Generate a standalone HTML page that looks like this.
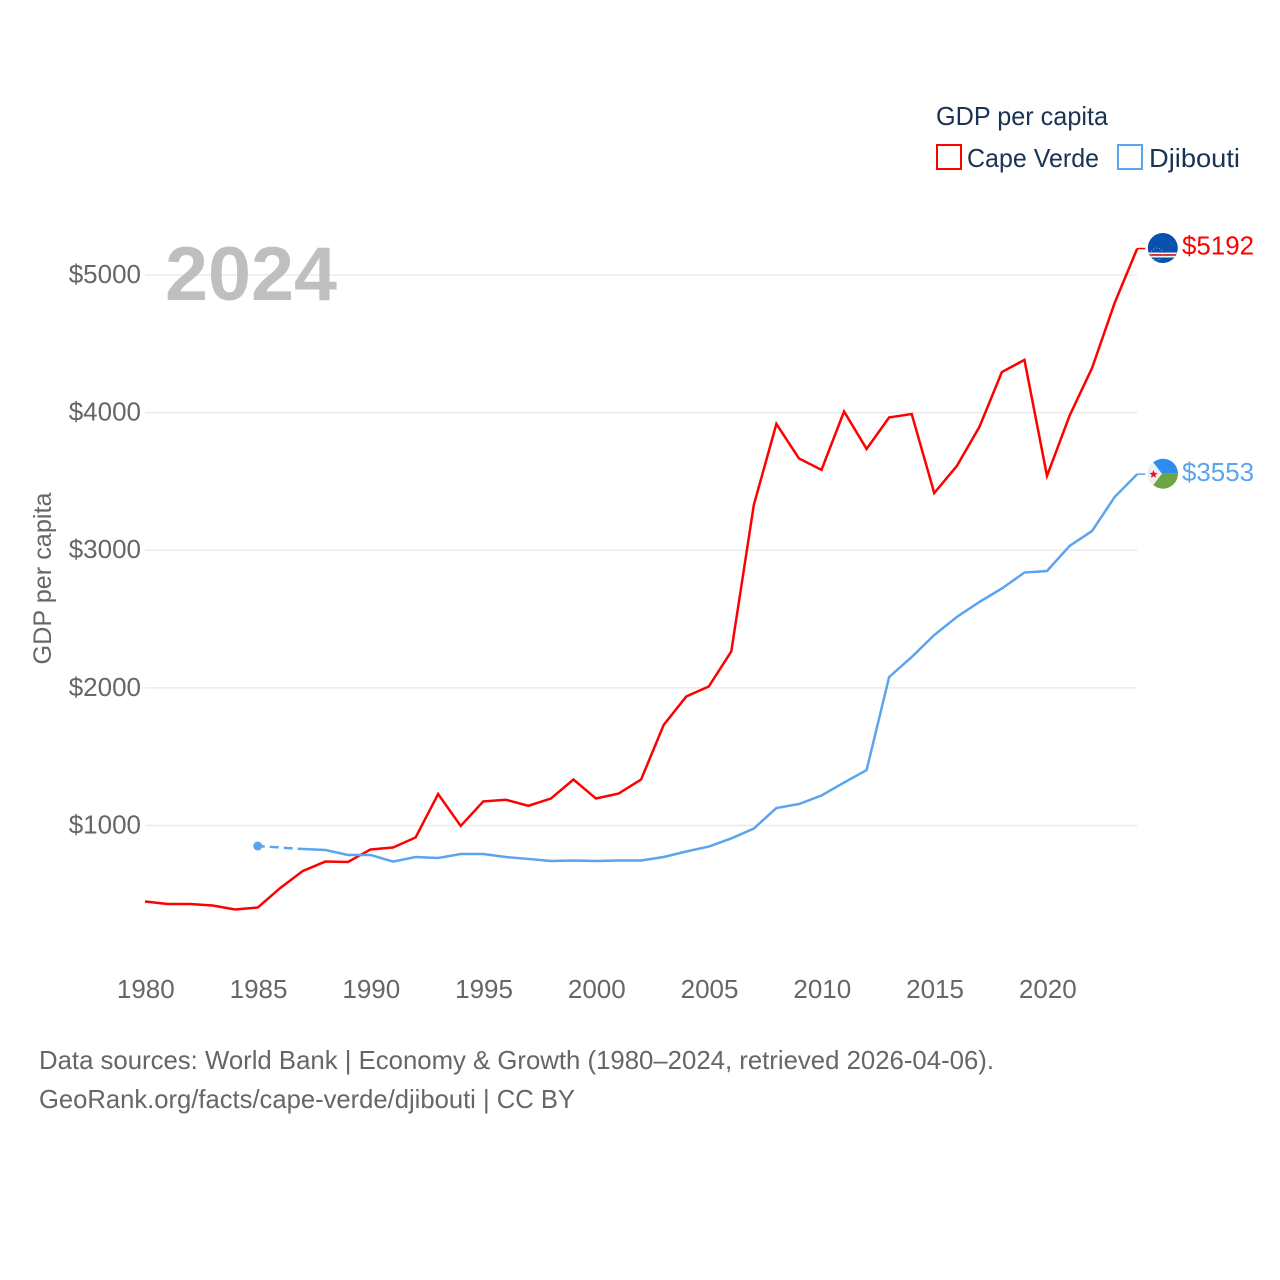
<!DOCTYPE html>
<html lang="en">
<head>
<meta charset="utf-8">
<title>GDP per capita: Cape Verde and Djibouti</title>
<style>
html,body{margin:0;padding:0;background:#fff;width:1280px;height:1280px;overflow:hidden}
svg{display:block}
text{font-family:"Liberation Sans",sans-serif}
</style>
</head>
<body>
<svg id="chart" xmlns="http://www.w3.org/2000/svg" width="1280" height="1280" viewBox="0 0 1280 1280">
  <defs>
    <clipPath id="flag-clip-cv"><circle cx="1162.8" cy="248" r="15"/></clipPath>
    <clipPath id="flag-clip-dj"><circle cx="1163" cy="473.7" r="15"/></clipPath>
  </defs>
  <rect x="0" y="0" width="1280" height="1280" fill="#ffffff"/>
  <g id="grid"></g>
  <g id="yticks"></g>
  <g id="xticks"></g>
  <g id="series"></g>

  <text x="165" y="300" font-size="76" font-weight="700" fill="#bfbfbf" textLength="172" lengthAdjust="spacingAndGlyphs">2024</text>
  <text transform="translate(51,578.5) rotate(-90)" text-anchor="middle" font-size="25" fill="#666666" textLength="172" lengthAdjust="spacingAndGlyphs">GDP per capita</text>

  <g>
    <text x="936" y="125" font-size="26" fill="#1a3353" textLength="172" lengthAdjust="spacingAndGlyphs">GDP per capita</text>
    <g>
      <rect x="937" y="145" width="24" height="24" fill="none" stroke="#ff0000" stroke-width="2"/>
      <text x="967" y="167" font-size="26" fill="#1a3353" textLength="132" lengthAdjust="spacingAndGlyphs">Cape Verde</text>
    </g>
    <g>
      <rect x="1118" y="145" width="24" height="24" fill="none" stroke="#5ba4ee" stroke-width="2"/>
      <text x="1149" y="167" font-size="26" fill="#1a3353" textLength="91" lengthAdjust="spacingAndGlyphs">Djibouti</text>
    </g>
  </g>

  <g clip-path="url(#flag-clip-cv)">
    <rect x="1147" y="232" width="32" height="32" fill="#0a50b0"/>
    <rect x="1147" y="252.5" width="32" height="1.6" fill="#f2f2f2"/>
    <rect x="1147" y="254.1" width="32" height="1.8" fill="#d8303a"/>
    <rect x="1147" y="255.9" width="32" height="1.6" fill="#f2f2f2"/>
    <circle cx="1157" cy="254" r="6" fill="none" stroke="#e8c94a" stroke-width="0.8" stroke-dasharray="1 2"/>
  </g>
  <g clip-path="url(#flag-clip-dj)">
    <rect x="1147" y="458" width="32" height="15.7" fill="#2f8bf0"/>
    <rect x="1147" y="473.7" width="32" height="16" fill="#6ea544"/>
    <polygon points="1147,454 1162,473.7 1147,493" fill="#f0f0f0"/>
    <polygon points="1153.5,470 1154.6,472.8 1157.6,473 1155.3,474.9 1156,477.8 1153.5,476.2 1151,477.8 1151.7,474.9 1149.4,473 1152.4,472.8" fill="#e8112d"/>
  </g>

  <g id="end-labels"></g>

  <g>
    <text x="39" y="1069" font-size="26" fill="#666666" textLength="955" lengthAdjust="spacingAndGlyphs">Data sources: World Bank | Economy &amp; Growth (1980–2024, retrieved 2026-04-06).</text>
    <text x="39" y="1108" font-size="26" fill="#666666" textLength="536" lengthAdjust="spacingAndGlyphs">GeoRank.org/facts/cape-verde/djibouti | CC BY</text>
  </g>
</svg>
<script>
const years = [1980,1981,1982,1983,1984,1985,1986,1987,1988,1989,1990,1991,1992,1993,1994,1995,1996,1997,1998,1999,2000,2001,2002,2003,2004,2005,2006,2007,2008,2009,2010,2011,2012,2013,2014,2015,2016,2017,2018,2019,2020,2021,2022,2023,2024];
const capeVerde = [448,430,430,419,390,404,546,670,738,735,826,840,913,1229,997,1175,1187,1143,1196,1334,1196,1232,1334,1730,1937,2010,2265,3330,3918,3667,3584,4008,3736,3965,3990,3416,3612,3895,4295,4383,3540,3977,4325,4797,5192];
const djibouti = [null,null,null,null,null,851,null,829,822,786,786,738,771,764,793,793,771,757,742,746,742,746,746,771,811,847,906,978,1127,1156,1218,1312,1403,2079,2224,2384,2515,2624,2722,2838,2849,3031,3140,3387,3553];
const yTickValues = [1000,2000,3000,4000,5000];
const yTickLabels = ["$1000","$2000","$3000","$4000","$5000"];
const xTickValues = [1980,1985,1990,1995,2000,2005,2010,2015,2020];
const xTickLabels = ["1980","1985","1990","1995","2000","2005","2010","2015","2020"];
const endLabels = ["$5192","$3553"];

const NS = "http://www.w3.org/2000/svg";
const RED = "#ff0000";
const BLUE = "#5ba4ee";
function xScale(year){ return 145 + (year - 1980) * 22.55; }
function yScale(v){ return 825.5 - (v - 1000) * 0.13763; }
function make(tag, attrs, parent, content){
  const el = document.createElementNS(NS, tag);
  for (const k in attrs) el.setAttribute(k, attrs[k]);
  if (content !== undefined) el.textContent = content;
  parent.appendChild(el);
  return el;
}
const gridG = document.getElementById("grid");
const yG = document.getElementById("yticks");
const xG = document.getElementById("xticks");
const seriesG = document.getElementById("series");
const endG = document.getElementById("end-labels");

yTickValues.forEach(function(v, i){
  const line = make("line", {x1:xScale(1980), x2:xScale(2024), y1:yScale(v), y2:yScale(v), stroke:"#ebebeb", "stroke-width":1.5}, gridG);
  
  
  const t = make("text", {x:141, y:yScale(v)+8, "text-anchor":"end", "font-size":26, fill:"#666666"}, yG, yTickLabels[i]);
  
  
});
xTickValues.forEach(function(v, i){
  const t = make("text", {x:xScale(v)+0.8, y:998, "text-anchor":"middle", "font-size":26, fill:"#666666"}, xG, xTickLabels[i]);
  
  
});

function segmentsOf(values){
  const segs = [];
  let cur = [];
  values.forEach(function(v, i){
    if (v === null) { if (cur.length) segs.push(cur); cur = []; }
    else cur.push([xScale(years[i]), yScale(v)]);
  });
  if (cur.length) segs.push(cur);
  return segs;
}
function toPoints(seg){ return seg.map(function(p){ return p[0].toFixed(2) + "," + p[1].toFixed(2); }).join(" "); }

function drawSeries(values, color){
  const segs = segmentsOf(values);
  for (let s = 0; s < segs.length; s++) {
    const seg = segs[s];
    if (seg.length === 1) {
      const dot = make("circle", {cx:seg[0][0], cy:seg[0][1], r:4.5, fill:color}, seriesG);
      
      
    } else {
      const pl = make("polyline", {points:toPoints(seg), fill:"none", stroke:color, "stroke-width":2.5, "stroke-linejoin":"miter"}, seriesG);
      
      
    }
    if (s > 0) {
      const a = segs[s-1][segs[s-1].length-1];
      const b = seg[0];
      const dash = make("line", {x1:a[0], y1:a[1], x2:b[0], y2:b[1], stroke:color, "stroke-width":2.5, "stroke-dasharray":"9 5", "stroke-dashoffset":2}, seriesG);
      
      
    }
  }
  const last = values[values.length-1];
  const tail = make("line", {x1:xScale(2024), x2:xScale(2024)+8, y1:yScale(last), y2:yScale(last), stroke:color, "stroke-width":1.5}, seriesG);
  
  
}
drawSeries(capeVerde, RED);
drawSeries(djibouti, BLUE);

const labelA = make("text", {x:1182, y:yScale(capeVerde[capeVerde.length-1])+6, "font-size":26, fill:RED, textLength:72, lengthAdjust:"spacingAndGlyphs"}, endG, endLabels[0]);


const labelB = make("text", {x:1182, y:yScale(djibouti[djibouti.length-1])+7, "font-size":26, fill:BLUE, textLength:72, lengthAdjust:"spacingAndGlyphs"}, endG, endLabels[1]);


</script>
</body>
</html>
